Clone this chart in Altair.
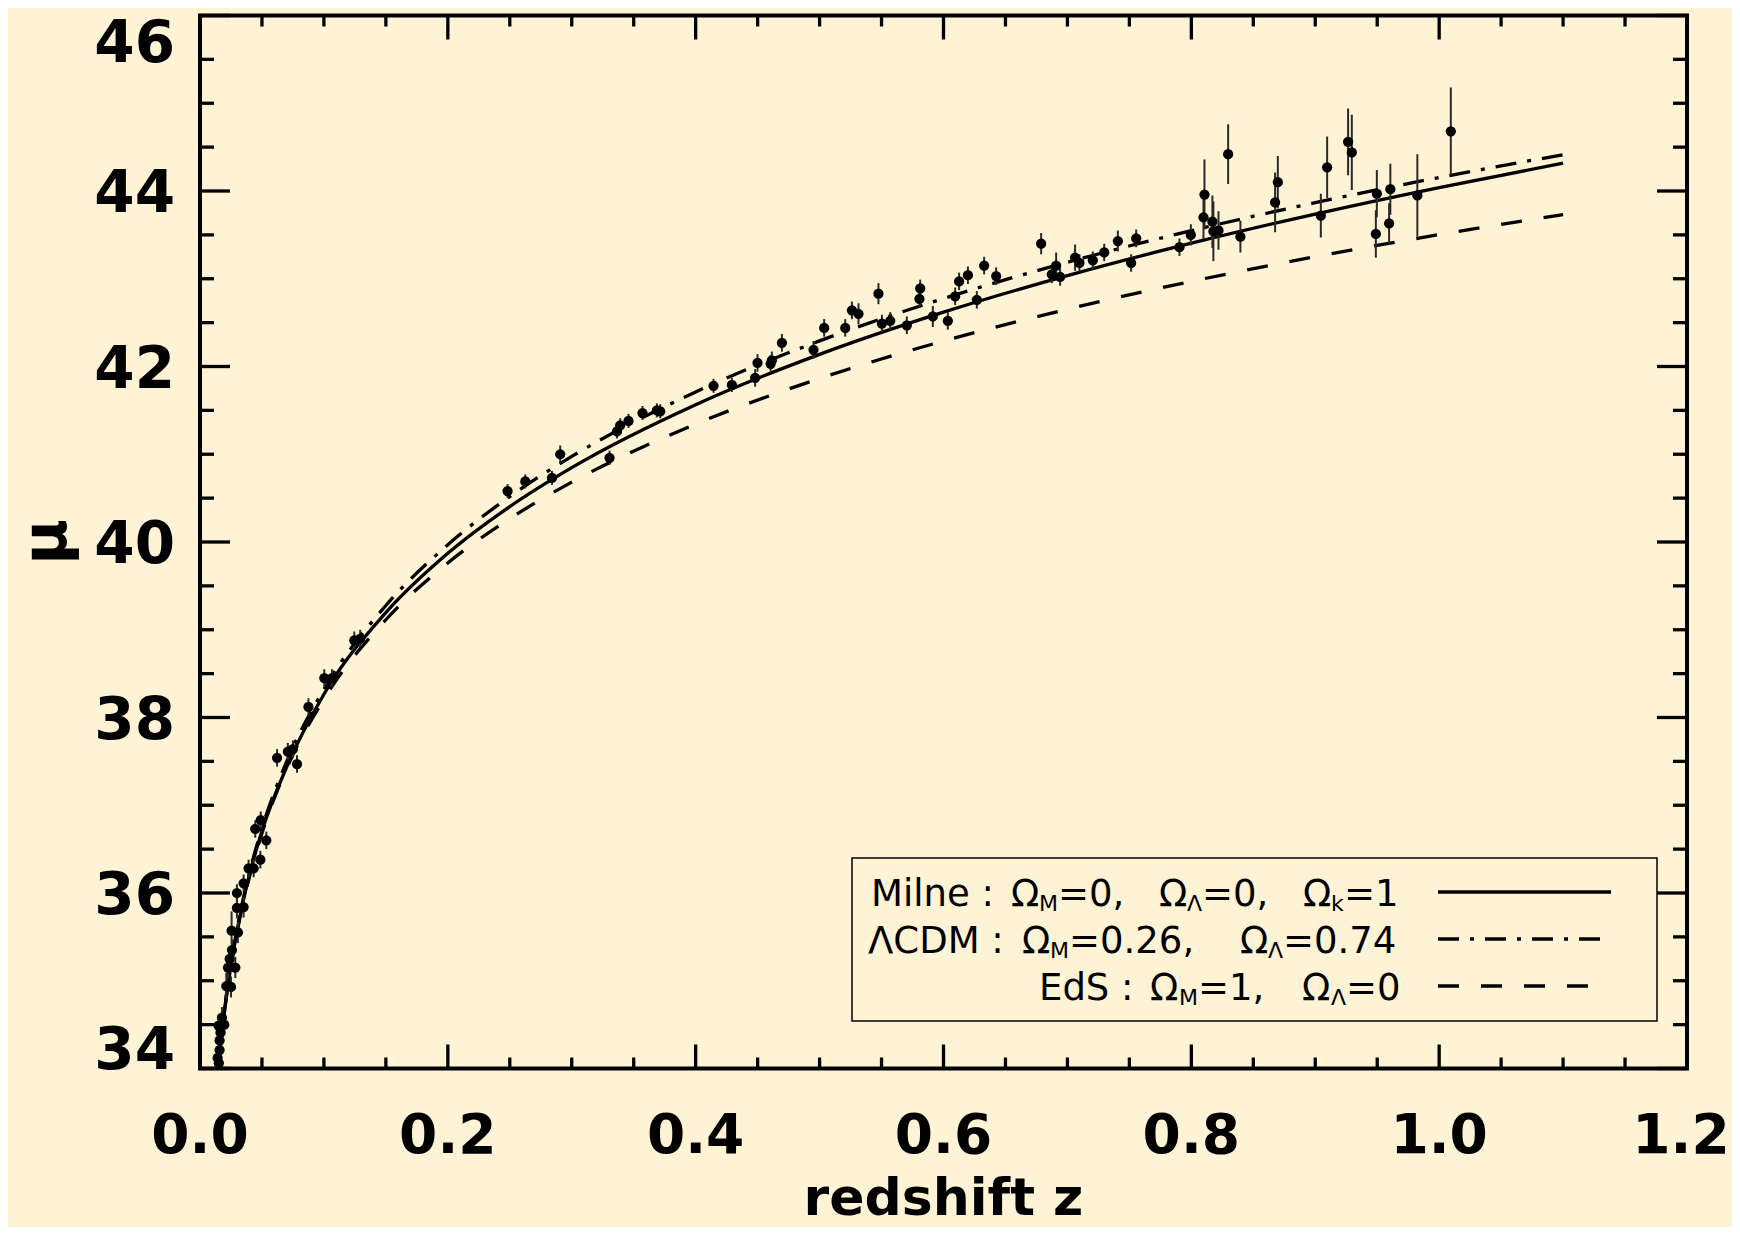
import altair as alt
import pandas as pd

# ---------------- data ----------------
Z_OBS = [0.0142, 0.0152, 0.0158, 0.0158, 0.0165, 0.0150, 0.0177, 0.0196, 0.0212, 0.0250,
         0.0226, 0.0285, 0.0239, 0.0258, 0.0255, 0.0306, 0.0298, 0.0352, 0.0298, 0.0352,
         0.0392, 0.0433, 0.0487, 0.0535, 0.0446, 0.0490, 0.0622, 0.0709, 0.0750, 0.0783,
         0.0875, 0.1003, 0.1065, 0.1245, 0.1293,
         0.2482, 0.2625, 0.2840, 0.2907, 0.3305, 0.3365, 0.3391, 0.3458, 0.3571, 0.3687,
         0.3714, 0.4144, 0.4292, 0.4480, 0.4499, 0.4605, 0.4615, 0.4696, 0.4951, 0.5037,
         0.5207, 0.5261, 0.5314, 0.5475, 0.5503, 0.5570, 0.5704, 0.5812, 0.5806, 0.5914,
         0.6035, 0.6094, 0.6126, 0.6197, 0.6269, 0.6328, 0.6425, 0.6788, 0.6874, 0.6909,
         0.6941, 0.7062, 0.7097, 0.7205, 0.7297, 0.7407, 0.7514, 0.7555, 0.7904, 0.7996,
         0.8106, 0.8098, 0.8170, 0.8178, 0.8219, 0.8297, 0.8396, 0.8676, 0.8698, 0.9045,
         0.9096, 0.9265, 0.9295, 0.9489, 0.9497, 0.9596, 0.9606, 0.9824, 1.0094]
MU_OBS = [34.12, 34.06, 34.21, 34.32, 34.41, 34.49, 34.58, 34.50, 34.94, 34.93,
          35.15, 35.15, 35.25, 35.35, 35.57, 35.55, 35.83, 35.84, 36.00, 36.11,
          36.28, 36.28, 36.38, 36.60, 36.73, 36.83, 37.54, 37.61, 37.64, 37.47,
          38.12, 38.45, 38.45, 38.88, 38.90,
          40.58, 40.69, 40.73, 41.00, 40.96, 41.26, 41.33, 41.38, 41.47, 41.50,
          41.49, 41.78, 41.79, 41.87, 42.04, 42.03, 42.07, 42.27, 42.19, 42.44,
          42.44, 42.64, 42.60, 42.83, 42.49, 42.52, 42.47, 42.89, 42.77, 42.57,
          42.52, 42.80, 42.97, 43.04, 42.76, 43.15, 43.03, 43.40, 43.05, 43.15,
          43.02, 43.24, 43.18, 43.21, 43.30, 43.43, 43.18, 43.46, 43.36, 43.50,
          43.96, 43.70, 43.65, 43.54, 43.55, 44.42, 43.48, 43.87, 44.10, 43.72,
          44.27, 44.56, 44.44, 43.51, 43.97, 43.63, 44.02, 43.95, 44.68]
MU_ERR = [0.12, 0.12, 0.12, 0.12, 0.12, 0.12, 0.12, 0.12, 0.15, 0.12,
          0.12, 0.12, 0.12, 0.12, 0.22, 0.12, 0.12, 0.12, 0.10, 0.10,
          0.10, 0.10, 0.10, 0.10, 0.10, 0.10, 0.10, 0.10, 0.10, 0.10,
          0.10, 0.10, 0.10, 0.10, 0.10,
          0.08, 0.08, 0.08, 0.10, 0.08, 0.08, 0.08, 0.08, 0.08, 0.08,
          0.08, 0.08, 0.08, 0.10, 0.10, 0.10, 0.10, 0.10, 0.10, 0.10,
          0.10, 0.10, 0.12, 0.12, 0.10, 0.10, 0.10, 0.10, 0.10, 0.12,
          0.10, 0.10, 0.10, 0.10, 0.10, 0.10, 0.10, 0.12, 0.10, 0.15,
          0.10, 0.15, 0.10, 0.10, 0.10, 0.12, 0.10, 0.10, 0.10, 0.12,
          0.40, 0.25, 0.30, 0.34, 0.22, 0.34, 0.18, 0.34, 0.30, 0.25,
          0.35, 0.38, 0.43, 0.27, 0.27, 0.23, 0.29, 0.47, 0.50]

Z_MODEL = [0.01, 0.015, 0.02, 0.03, 0.04, 0.05, 0.07, 0.10, 0.15, 0.20,
           0.25, 0.30, 0.40, 0.50, 0.60, 0.70, 0.80, 0.90, 1.00, 1.10]
MU_MILNE = [33.170, 34.056, 34.686, 35.577, 36.212, 36.707, 37.437, 38.265, 39.196, 39.871,
            40.404, 40.848, 41.565, 42.138, 42.619, 43.036, 43.405, 43.737, 44.039, 44.317]
MU_LCDM = [33.176, 34.065, 34.698, 35.596, 36.237, 36.738, 37.501, 38.322, 39.276, 39.969,
           40.518, 40.975, 41.710, 42.292, 42.775, 43.188, 43.548, 43.867, 44.154, 44.413]
MU_EDS = [33.164, 34.047, 34.675, 35.560, 36.190, 36.680, 37.421, 38.210, 39.114, 39.761,
          40.266, 40.682, 41.344, 41.863, 42.290, 42.653, 42.970, 43.251, 43.503, 43.731]

X_MAJOR = [0.0, 0.2, 0.4, 0.6, 0.8, 1.0, 1.2]
X_LABELS = ["0.0", "0.2", "0.4", "0.6", "0.8", "1.0", "1.2"]
X_MINOR = [0.05, 0.10, 0.15, 0.25, 0.30, 0.35, 0.45, 0.50, 0.55, 0.65, 0.70, 0.75,
           0.85, 0.90, 0.95, 1.05, 1.10, 1.15]
Y_MAJOR = [34, 36, 38, 40, 42, 44, 46]
Y_LABELS = ["34", "36", "38", "40", "42", "44", "46"]
Y_MINOR = [34.5, 35.0, 35.5, 36.5, 37.0, 37.5, 38.5, 39.0, 39.5, 40.5, 41.0, 41.5,
           42.5, 43.0, 43.5, 44.5, 45.0, 45.5]
X_TITLE = "redshift z"
Y_TITLE = "μ"

# legend pieces: (text, left x in page px, is_subscript)
LEG_ROW1 = [("Milne :", 871, 0), ("Ω", 1011, 0), ("M", 1039, 1), ("=0,", 1058, 0),
            ("Ω", 1159, 0), ("Λ", 1187, 1), ("=0,", 1202, 0),
            ("Ω", 1303, 0), ("k", 1331, 1), ("=1", 1344, 0)]
LEG_ROW2 = [("ΛCDM :", 868, 0), ("Ω", 1022, 0), ("M", 1050, 1), ("=0.26,", 1069, 0),
            ("Ω", 1240, 0), ("Λ", 1268, 1), ("=0.74", 1283, 0)]
LEG_ROW3 = [("EdS :", 1039, 0), ("Ω", 1150, 0), ("M", 1179, 1), ("=1,", 1198, 0),
            ("Ω", 1302, 0), ("Λ", 1331, 1), ("=0", 1346, 0)]
LEG_ROW_Y = [892, 939, 986]          # page px, row centres
LEG_LINE_X0 = 1438                   # page px
LEG_LINE_X1 = [1611, 1607, 1591]     # page px
LEG_BOX = [852, 858, 1657, 1021]     # page px

# ---------------- layout / style ----------------
BG = "#FFF3D6"
W, H = 1487, 1053
PAD_L, PAD_T = 192, 7.5
OX, OY = 8 + PAD_L, 8 + PAD_T        # page position of the plot origin
FONT = "DejaVu Sans"
LW = 3.3

xs = alt.Scale(domain=[0, 1.2], nice=False, zero=False)
ys = alt.Scale(domain=[34, 46], nice=False, zero=False)

obs = pd.DataFrame({"z": Z_OBS, "mu": MU_OBS, "err": MU_ERR})
obs["lo"] = obs["mu"] - obs["err"]
obs["hi"] = obs["mu"] + obs["err"]

points = alt.Chart(obs).mark_circle(size=105, color="black", opacity=1, clip=True).encode(
    x=alt.X("z:Q", scale=xs, axis=None),
    y=alt.Y("mu:Q", scale=ys, axis=None),
)
errs = alt.Chart(obs).mark_rule(color="#2a2a2a", strokeWidth=2, clip=True).encode(
    x=alt.X("z:Q", scale=xs, axis=None),
    y=alt.Y("lo:Q", scale=ys, axis=None),
    y2="hi:Q",
)

def model_line(values, dash):
    df = pd.DataFrame({"z": Z_MODEL, "mu": values})
    kw = dict(color="black", strokeWidth=LW, clip=True, interpolate="monotone", strokeCap="butt")
    if dash:
        kw["strokeDash"] = dash
    return alt.Chart(df).mark_line(**kw).encode(
        x=alt.X("z:Q", scale=xs, axis=None),
        y=alt.Y("mu:Q", scale=ys, axis=None),
    )

DASH_LCDM = [21, 11, 4, 11]
DASH_EDS = [21, 22]
milne = model_line(MU_MILNE, None)
lcdm = model_line(MU_LCDM, DASH_LCDM)
eds = model_line(MU_EDS, DASH_EDS)

# inward ticks on all four sides
def xticks(vals, length):
    df = pd.DataFrame({"v": vals})
    base = alt.Chart(df).mark_rule(color="black", strokeWidth=LW)
    bot = base.encode(x=alt.X("v:Q", scale=xs, axis=None), y=alt.value(H), y2=alt.value(H - length))
    top = base.encode(x=alt.X("v:Q", scale=xs, axis=None), y=alt.value(0), y2=alt.value(length))
    return bot + top

def yticks(vals, length):
    df = pd.DataFrame({"v": vals})
    base = alt.Chart(df).mark_rule(color="black", strokeWidth=LW)
    left = base.encode(y=alt.Y("v:Q", scale=ys, axis=None), x=alt.value(0), x2=alt.value(length))
    right = base.encode(y=alt.Y("v:Q", scale=ys, axis=None), x=alt.value(W), x2=alt.value(W - length))
    return left + right

ticks = xticks(X_MAJOR, 24) + xticks(X_MINOR, 11) + yticks(Y_MAJOR, 30) + yticks(Y_MINOR, 14)

# tick labels and axis titles
xl = pd.DataFrame({"v": X_MAJOR, "t": X_LABELS})
def xlab(df, dx):
    return alt.Chart(df).mark_text(
        font=FONT, fontSize=55, fontWeight="bold", color="black",
        align="center", baseline="alphabetic", dx=dx).encode(
        x=alt.X("v:Q", scale=xs, axis=None), y=alt.value(H + 84.5), text="t:N")
x_labels = xlab(xl.iloc[:-1], 0) + xlab(xl.iloc[-1:], -6)

yl = pd.DataFrame({"v": Y_MAJOR, "t": Y_LABELS})
def ylab(df, dy):
    return alt.Chart(df).mark_text(
        font=FONT, fontSize=58, fontWeight="bold", color="black",
        align="right", baseline="alphabetic", dy=dy).encode(
        y=alt.Y("v:Q", scale=ys, axis=None), x=alt.value(-25), text="t:N")
y_labels = (ylab(yl.iloc[1:-1], 21) + ylab(yl.iloc[-1:], 46) + ylab(yl.iloc[:1], 0))

one = pd.DataFrame({"a": [0]})
x_title = alt.Chart(one).mark_text(
    text=X_TITLE, font=FONT, fontSize=52, fontWeight="bold", color="black",
    align="center", baseline="alphabetic").encode(
    x=alt.value(W / 2), y=alt.value(H + 146))
y_title = alt.Chart(one).mark_text(
    text=Y_TITLE, font=FONT, fontSize=62, fontWeight="bold", color="black",
    align="center", baseline="middle", angle=270).encode(
    x=alt.value(-153), y=alt.value(H / 2))

# legend
box = alt.Chart(one).mark_rect(fill=BG, stroke="black", strokeWidth=1.5).encode(
    x=alt.value(LEG_BOX[0] - OX), x2=alt.value(LEG_BOX[2] - OX),
    y=alt.value(LEG_BOX[1] - OY), y2=alt.value(LEG_BOX[3] - OY),
)
leg_lines = []
for yy, x1, dash in zip(LEG_ROW_Y, LEG_LINE_X1, [None, DASH_LCDM, DASH_EDS]):
    kw = dict(color="black", strokeWidth=LW, strokeCap="butt")
    if dash:
        kw["strokeDash"] = dash
    leg_lines.append(alt.Chart(one).mark_rule(**kw).encode(
        x=alt.value(LEG_LINE_X0 - OX), x2=alt.value(x1 - OX),
        y=alt.value(yy - OY)))

rows = []
for toks, yy in zip([LEG_ROW1, LEG_ROW2, LEG_ROW3], LEG_ROW_Y):
    for t, xx, sub in toks:
        rows.append({"t": t, "px": xx - OX, "py": yy - OY + (19 if sub else 13.5), "sub": sub})
tok = pd.DataFrame(rows)
main_txt = alt.Chart(tok[tok["sub"] == 0]).mark_text(
    font=FONT, fontSize=37, color="black", align="left", baseline="alphabetic").encode(
    x=alt.X("px:Q", scale=None, axis=None), y=alt.Y("py:Q", scale=None, axis=None), text="t:N")
sub_txt = alt.Chart(tok[tok["sub"] == 1]).mark_text(
    font=FONT, fontSize=22, color="black", align="left", baseline="alphabetic").encode(
    x=alt.X("px:Q", scale=None, axis=None), y=alt.Y("py:Q", scale=None, axis=None), text="t:N")

chart = alt.layer(
    eds, lcdm, milne, errs, points, ticks, x_labels, y_labels, x_title, y_title,
    box, *leg_lines, main_txt, sub_txt
).properties(
    width=W, height=H, background=BG,
    autosize=alt.AutoSizeParams(type="none"),
    padding={"left": PAD_L, "top": PAD_T, "right": 45, "bottom": 158.5},
).configure_view(stroke="black", strokeWidth=4, fill=BG)

chart.save("out.html", embed_options={"renderer": "svg", "actions": False})
